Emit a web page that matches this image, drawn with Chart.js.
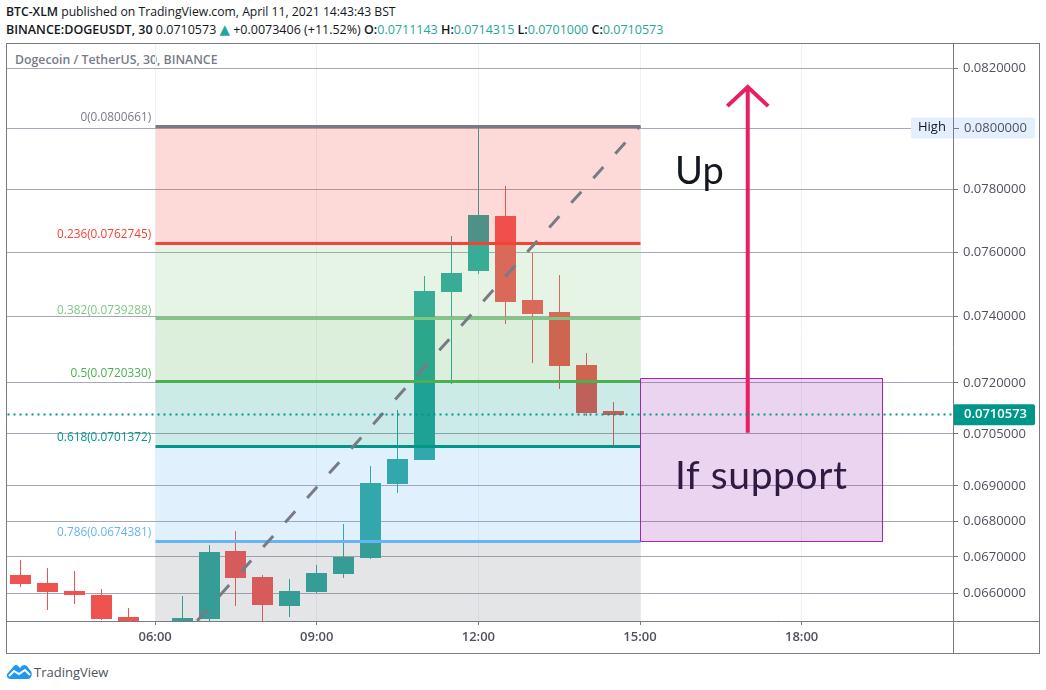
<!DOCTYPE html>
<html><head><meta charset="utf-8">
<style>
html,body{margin:0;padding:0;background:#fff;width:1046px;height:690px;overflow:hidden}
canvas{position:absolute;left:0;top:0}
.t{position:absolute;white-space:nowrap;font-family:"Open Sans",sans-serif;font-size:12.5px;color:#131722;line-height:16px}
.b{font-weight:600}.g{color:#26a69a}
</style>
<script src="https://cdn.jsdelivr.net/npm/chart.js@4"></script>
</head><body>
<div class="t" style="left:6px;top:4px;font-size:12.2px"><span class="b">BTC-XLM</span> published on TradingView.com, April 11, 2021 14:43:43 BST</div>
<div class="t" style="left:6px;top:22px"><span class="b">BINANCE:DOGEUSDT, 30</span> 0.0710573 <span class="g" style="font-family:'DejaVu Sans';font-size:13.5px;line-height:0">▲</span> +0.0073406 (+11.52%) <span class="b">O:</span><span class="g">0.0711143</span> <span class="b">H:</span><span class="g">0.0714315</span> <span class="b">L:</span><span class="g">0.0701000</span> <span class="b">C:</span><span class="g">0.0710573</span></div>
<div class="t" style="left:15px;top:52px;color:#787b86;font-weight:600;font-size:12.3px">Dogecoin / TetherUS, 30, BINANCE</div>
<div class="t" style="left:34px;top:664px;color:#50535e;font-size:13px">TradingView</div>
<svg style="position:absolute;left:6px;top:663px" width="27" height="17" viewBox="0 0 27 17"><path d="M1 11 L8 3 Q10 1 12 3 L14 5 Q17 0 21 3 L24 7 Q27 10 25 14 Q24 16 22 16 L4 16 Q0 15 1 11Z" fill="#2196f3"/><path d="M3 13 L8 8 L13 11 L19 7 L24 12" stroke="#fff" stroke-width="2" fill="none"/></svg>
<canvas id="c" width="1046" height="690"></canvas>
<script>
// Time in hours of day, candle prices
const candleHours = [3.5,4,4.5,5,5.5,6.5,7,7.5,8,8.5,9,9.5,10,10.5,11,11.5,12,12.5,13,13.5,14,14.5];
const opens  = [.06650,.06628,.06607,.06596,.06536,.06490,.06530,.06717,.06645,.06566,.06604,.06653,.06698,.06905,.06975,.07475,.07541,.07715,.07450,.07414,.07254,.07116];
const highs  = [.06692,.06670,.06661,.06612,.06560,.06593,.06734,.06772,.06650,.06639,.06678,.06792,.06956,.07120,.07525,.07651,.0800661,.07811,.07597,.07528,.07289,.0714315];
const lows   = [.06618,.06555,.06571,.06527,.06480,.06480,.06524,.06566,.06510,.06536,.06601,.06642,.06695,.06880,.06975,.07197,.07532,.07378,.07260,.07182,.07102,.0701000];
const closes = [.06626,.06604,.06596,.06530,.06500,.06533,.06714,.06642,.06568,.06607,.06656,.06700,.06908,.06976,.07479,.07535,.07718,.07445,.07408,.07251,.07111,.07105];

const fibLabels = ["0(0.0800661)","0.236(0.0762745)","0.382(0.0739288)","0.5(0.0720330)","0.618(0.0701372)","0.786(0.0674381)"];
const fibValues = [.0800661,.0762745,.0739288,.0720330,.0701372,.0674381,.0640000];
const fibColors = ["#787b86","#f44336","#81c784","#4caf50","#009688","#64b5f6","#787b86"];
const fibFills  = ["rgba(244,67,54,.2)","rgba(129,199,132,.2)","rgba(76,175,80,.2)","rgba(0,150,136,.2)","rgba(100,181,246,.2)","rgba(120,123,134,.2)"];
const fibStart = 6, fibEnd = 15;

const yTicks = [.082,.08,.078,.076,.074,.072,.0705,.069,.068,.067,.066];
const xTicks = [6,9,12,15,18];
const lastPrice = .0710573;
const highPrice = .08;
const boxHours = [15,19.51];
const boxPrices = [.07212,.06742];
const arrowHours = [16.62,17,17.38];
const arrowPrices = [.07053,.08137,.08073];
const priceMin = .06525, priceMax = .08283, hourMin = 3.25, hourMax = 20.81;

const green = "#26a69a", red = "#ef5350";
const isUp = candleHours.map((_,i)=>closes[i]>=opens[i]);
const cols = isUp.map(u=>u?green:red);
const font = '"Open Sans",sans-serif';

const datasets = [];
datasets.push({type:'bar',label:'wick',order:50,grouped:false,barThickness:1,inflateAmount:0,backgroundColor:cols,
  data:candleHours.map((h,i)=>({x:h,y:[lows[i],highs[i]]}))});
datasets.push({type:'bar',label:'body',order:49,grouped:false,barThickness:21,inflateAmount:0,backgroundColor:cols,
  data:candleHours.map((h,i)=>({x:h,y:[Math.min(opens[i],closes[i]),Math.max(opens[i],closes[i])]}))});

// Fib levels. Each fills down to the next one, above the candles
fibValues.forEach((v,i)=>{
  const last = i===fibValues.length-1;
  datasets.push({type:'line',label:'fib'+i,order:40-i,pointRadius:0,
    borderColor:last?'rgba(0,0,0,0)':fibColors[i],borderWidth:3,
    backgroundColor:last?'transparent':fibFills[i],fill:last?false:'+1',
    data:[{x:fibStart,y:v},{x:fibEnd,y:v}]});
});
// Trend line of the fib tool
datasets.push({type:'line',label:'trend',order:20,pointRadius:0,borderColor:"#787b86",borderWidth:3,borderDash:[15,18],borderDashOffset:3,
  data:[{x:fibStart,y:fibValues[6]},{x:fibEnd,y:fibValues[0]}]});
// Box
datasets.push({type:'line',label:'boxTop',order:19,pointRadius:0,borderWidth:0,borderColor:'transparent',backgroundColor:'rgba(156,39,176,.2)',fill:'+1',
  data:boxHours.map(h=>({x:h,y:boxPrices[0]}))});
datasets.push({type:'line',label:'boxBottom',order:18,pointRadius:0,borderWidth:0,borderColor:'transparent',fill:false,
  data:boxHours.map(h=>({x:h,y:boxPrices[1]}))});
datasets.push({type:'line',label:'boxEdge',order:17,pointRadius:0,borderWidth:1,borderColor:'#9c27b0',fill:false,
  data:[{x:boxHours[0],y:boxPrices[0]},{x:boxHours[1],y:boxPrices[0]},{x:boxHours[1],y:boxPrices[1]},{x:boxHours[0],y:boxPrices[1]},{x:boxHours[0],y:boxPrices[0]}]});
// Arrow
datasets.push({type:'line',label:'arrowShaft',order:16,pointRadius:0,borderWidth:4,borderColor:'#e91e63',fill:false,
  data:[{x:arrowHours[1],y:arrowPrices[0]},{x:arrowHours[1],y:arrowPrices[1]}]});
datasets.push({type:'line',label:'arrowHead',order:15,pointRadius:0,borderWidth:4,borderColor:'#e91e63',fill:false,
  data:[{x:arrowHours[0],y:arrowPrices[2]},{x:arrowHours[1],y:arrowPrices[1]},{x:arrowHours[2],y:arrowPrices[2]}]});
// Last price
datasets.push({type:'line',label:'last',order:14,pointRadius:0,borderWidth:2,borderColor:'#009688',borderDash:[2,4],fill:false,
  data:[{x:hourMin,y:lastPrice},{x:hourMax,y:lastPrice}]});

// Snap the positions the scales computed to whole device pixels, for crisp edges
const half = v=>Math.floor(v)+.5;
const snap = {
  id:'snap',
  beforeDatasetsDraw(ch){
    ch.data.datasets.forEach((ds,i)=>{
      const m=ch.getDatasetMeta(i);
      if(ds.type==='bar'){
        m.data.forEach(el=>{ el.x=half(el.x); el.y=Math.round(el.y); el.base=Math.round(el.base); });
      } else if(/^(fib|box|last)/.test(ds.label)){
        m.data.forEach(el=>{ el.x=half(el.x); el.y=half(el.y); });
      }
    });
  }
};

const decor = {
  id:'decor',
  afterDraw(ch){
    const c=ch.ctx, X=ch.scales.x, Y=ch.scales.y;
    c.save();
    // fib labels
    c.textAlign='right'; c.textBaseline='middle'; c.font='11.8px '+font;
    fibLabels.forEach((t,i)=>{ c.fillStyle=fibColors[i]; c.fillText(t,X.getPixelForValue(fibStart)-4,Y.getPixelForValue(fibValues[i])-8.5); });
    // notes
    c.textAlign='left'; c.font='38px Lato,'+font;
    c.fillStyle='#131722'; c.fillText('Up',X.getPixelForValue(15.65),Y.getPixelForValue(.07857));
    c.font='39px Lato,'+font; c.letterSpacing='0.6px';
    c.fillStyle='#2f1a42'; c.fillText('If support',X.getPixelForValue(15.65),Y.getPixelForValue(.06926));
    c.letterSpacing='0px';
    // High tag
    const yh=Y.getPixelForValue(highPrice);
    c.fillStyle='#e3effd'; c.beginPath(); c.roundRect(911,yh-10.5,124,21,2); c.fill();
    c.fillStyle='#fff'; c.fillRect(953,yh-10.5,1,21);
    c.fillStyle='#787b86'; c.fillRect(954,Math.round(yh),5,1);
    c.fillStyle='#131722'; c.font='13px '+font; c.fillText('High',918,yh-1);
    c.fillStyle='#50535e'; c.fillText('0.0800000',964,yh);
    // last tag
    const yl=Y.getPixelForValue(lastPrice);
    c.fillStyle='#009688'; c.beginPath(); c.roundRect(953,yl-10.5,82,21,2); c.fill();
    c.fillStyle='#fff'; c.font='600 13px '+font; c.fillText('0.0710573',964,yl);
    // frame
    c.strokeStyle='#787b86'; c.lineWidth=1;
    c.strokeRect(6.5,43.5,1033,610);
    c.beginPath(); c.moveTo(953.5,43.5); c.lineTo(953.5,653.5); c.moveTo(6.5,621.5); c.lineTo(1039.5,621.5); c.stroke();
    c.restore();
  }
};

new Chart(document.getElementById('c'),{
  data:{datasets},
  options:{
    responsive:false,animation:false,devicePixelRatio:1,
    layout:{padding:{left:7,top:44,right:0,bottom:0}},
    plugins:{legend:{display:false},tooltip:{enabled:false}},
    scales:{
      x:{type:'linear',offset:false,min:hourMin,max:hourMax,bounds:'data',
        afterBuildTicks(s){s.ticks=xTicks.map(v=>({value:v}));},
        afterFit(s){s.height=69;},
        grid:{offset:false,color:'#eef0f5',tickColor:'#787b86',tickLength:4,drawTicks:true},
        border:{display:false},
        ticks:{autoSkip:false,maxRotation:0,padding:4,color:'#50535e',font:{family:font,size:13,weight:'600'},
          callback:v=>String(v).padStart(2,'0')+':00'}},
      y:{type:'logarithmic',position:'right',min:priceMin,max:priceMax,bounds:'data',
        afterBuildTicks(s){s.ticks=yTicks.map(v=>({value:v}));},
        afterFit(s){s.width=93;},
        grid:{color:'#a5a8b5',tickColor:'#787b86',tickLength:5,drawTicks:true},
        border:{display:false},
        ticks:{autoSkip:false,padding:5,color:'#50535e',font:{family:font,size:13},
          callback:v=>Number(v).toFixed(7)}}
    }
  },
  plugins:[snap,decor]
});
</script>
</body></html>
